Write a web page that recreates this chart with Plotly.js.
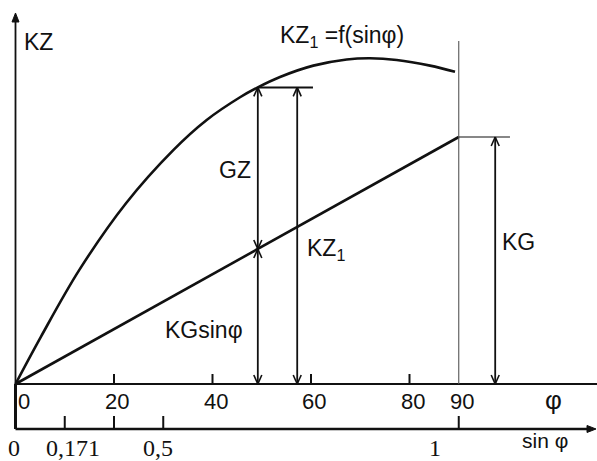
<!DOCTYPE html>
<html><head><meta charset="utf-8">
<script src="https://cdn.plot.ly/plotly-3.0.1.min.js"></script>
<style>html,body{margin:0;padding:0;background:#fff;}#chart{width:597px;height:461px;}</style>
</head><body><div id="chart"></div>
<script>
// ---- data (φ in degrees, KZ in units of KG) ----
const curvePhi = [0, 5.18, 12.96, 22.44, 32.04, 38.82, 45.59, 49.3, 53.71, 60.47, 67.25, 71.98, 77.4, 84.17, 89.24];
const curveKZ1 = [0, 0.192, 0.462, 0.732, 0.947, 1.069, 1.161, 1.202, 1.243, 1.289, 1.314, 1.319, 1.312, 1.289, 1.264];
const linePhi = [0, 90];
const lineKGsin = [0, 1];
const phiTicks = [20, 40, 60, 80];
const phiLabelVals = [0, 20, 40, 60, 80, 90];
const phiLabelText = ['0', '20', '40', '60', '80', '90'];
const sinTicks = [10, 20, 30, 90];
const sinLabelVals = [0, 10, 30, 90];
const sinLabelText = ['0', '0,171', '0,5', '1'];
const phiGZ = 49.2;   // angle where GZ and KG·sinφ are shown
const phiKZ1 = 57.2;  // angle where KZ1 is shown
const phiKG = 97.4;   // where KG is shown
const KG = 1;
const phiMax = 90;

// ---- helpers ----
function interp(xs, ys, x) {
  for (let i = 1; i < xs.length; i++) {
    if (x <= xs[i]) { const t = (x - xs[i-1]) / (xs[i] - xs[i-1]); return ys[i-1] + t * (ys[i] - ys[i-1]); }
  }
  return ys[ys.length - 1];
}
const xr = [-3.147, 118.07], yr = [-0.3117, 1.5547];
const sinAxisY = -0.1821, yTop = 1.5021, vLineTop = 1.389;
const topKZ = interp(curvePhi, curveKZ1, phiGZ);
const kgSin = interp(linePhi, lineKGsin, phiGZ) * KG;
const phiLabelY = -0.0688, sinLabelY = -0.2591;
const sinLabelShift = [-2, 8, -5, -24];

const shapes = [];
function seg(x0, y0, x1, y1, w, c) {
  shapes.push({type: 'line', xref: 'x', yref: 'y', x0, y0, x1, y1, line: {color: c || '#111', width: w}});
}
function vhead(x, y, dir) {
  [-4, 4].forEach(dx => shapes.push({type: 'line', xref: 'x', yref: 'y', xsizemode: 'pixel', ysizemode: 'pixel',
    xanchor: x, yanchor: y, x0: dx, y0: -9 * dir, x1: 0, y1: 0, line: {color: '#111', width: 1.6}}));
}
function varrow(x, ya, yb, w) {
  seg(x, ya, x, yb, w);
  vhead(x, Math.max(ya, yb), 1);
  vhead(x, Math.min(ya, yb), -1);
}

// axes
seg(0, sinAxisY, 0, 0, 3);
seg(0, 0, 0, yTop - 0.02, 1.8);
shapes.push({type: 'path', xref: 'x', yref: 'y', xsizemode: 'pixel', ysizemode: 'pixel', xanchor: 0, yanchor: yTop,
  path: 'M0,0 L-3.5,-9 L3.5,-9 Z', fillcolor: '#111', line: {color: '#111', width: 1}});
seg(0, 0, xr[1], 0, 2.2);
seg(0, sinAxisY, xr[1] - 1.5, sinAxisY, 2.4);
shapes.push({type: 'path', xref: 'x', yref: 'y', xsizemode: 'pixel', ysizemode: 'pixel', xanchor: xr[1] - 0.2, yanchor: sinAxisY,
  path: 'M0,0 L-9,3.5 L-9,-3.5 Z', fillcolor: '#111', line: {color: '#111', width: 1}});
phiTicks.forEach(t => shapes.push({type: 'line', xref: 'x', yref: 'y', ysizemode: 'pixel', yanchor: 0,
  x0: t, x1: t, y0: 0, y1: 10, line: {color: '#111', width: 2}}));
sinTicks.forEach(t => shapes.push({type: 'line', xref: 'x', yref: 'y', ysizemode: 'pixel', yanchor: sinAxisY,
  x0: t, x1: t, y0: 0, y1: 13, line: {color: '#111', width: 2}}));
// 90° line
seg(phiMax, 0, phiMax, vLineTop, 1.1, '#555');
// horizontal guides
seg(phiGZ, topKZ, 60.4, topKZ, 2);
seg(phiMax, KG, 100.4, KG, 1.2);
// dimension arrows
varrow(phiGZ, kgSin, topKZ, 1.8);
varrow(phiGZ, 0, kgSin, 1.8);
varrow(phiKZ1, 0, topKZ, 1.8);
varrow(phiKG, 0, KG, 1.8);

const sans = 'Liberation Sans, Arial, sans-serif';
const serif = 'Liberation Serif, Times New Roman, serif';
const ann = [];
function txt(x, y, text, size, opts) {
  ann.push(Object.assign({x, y, xref: 'x', yref: 'y', text, showarrow: false,
    font: {family: sans, size: size, color: '#111'}}, opts || {}));
}
phiLabelVals.forEach((v, i) => txt(v, phiLabelY, phiLabelText[i], 22, i === 0 ? {xanchor: 'left'} : {xshift: 3}));
sinLabelVals.forEach((v, i) => txt(v, sinLabelY, sinLabelText[i], 24, {xshift: sinLabelShift[i], font: {family: serif, size: 24, color: '#111'}}));
txt(109.3, -0.0647, 'φ', 26);
txt(107.5, -0.2307, 'sin φ', 21);
txt(4.57, 1.385, 'KZ', 23);
txt(53.3, 1.405, 'KZ<sub>1</sub> =f(sinφ)', 23, {xanchor: 'left'});
txt(44.57, 0.8664, 'GZ', 23);
txt(58.78, 0.5426, 'KZ<sub>1</sub>', 23, {xanchor: 'left'});
txt(102.03, 0.575, 'KG', 23);
txt(38.28, 0.2187, 'KGsinφ', 23);

const traces = [
  {x: curvePhi, y: curveKZ1, mode: 'lines', line: {color: '#111', width: 2.6, shape: 'spline', smoothing: 1}, hoverinfo: 'skip'},
  {x: linePhi, y: lineKGsin, mode: 'lines', line: {color: '#111', width: 2.6}, hoverinfo: 'skip'}
];
const layout = {
  width: 597, height: 461, margin: {l: 0, r: 0, t: 0, b: 0},
  paper_bgcolor: '#fff', plot_bgcolor: '#fff', showlegend: false,
  xaxis: {range: xr, visible: false, fixedrange: true},
  yaxis: {range: yr, visible: false, fixedrange: true},
  shapes: shapes, annotations: ann
};
Plotly.newPlot('chart', traces, layout, {displayModeBar: false, staticPlot: true});
</script></body></html>
